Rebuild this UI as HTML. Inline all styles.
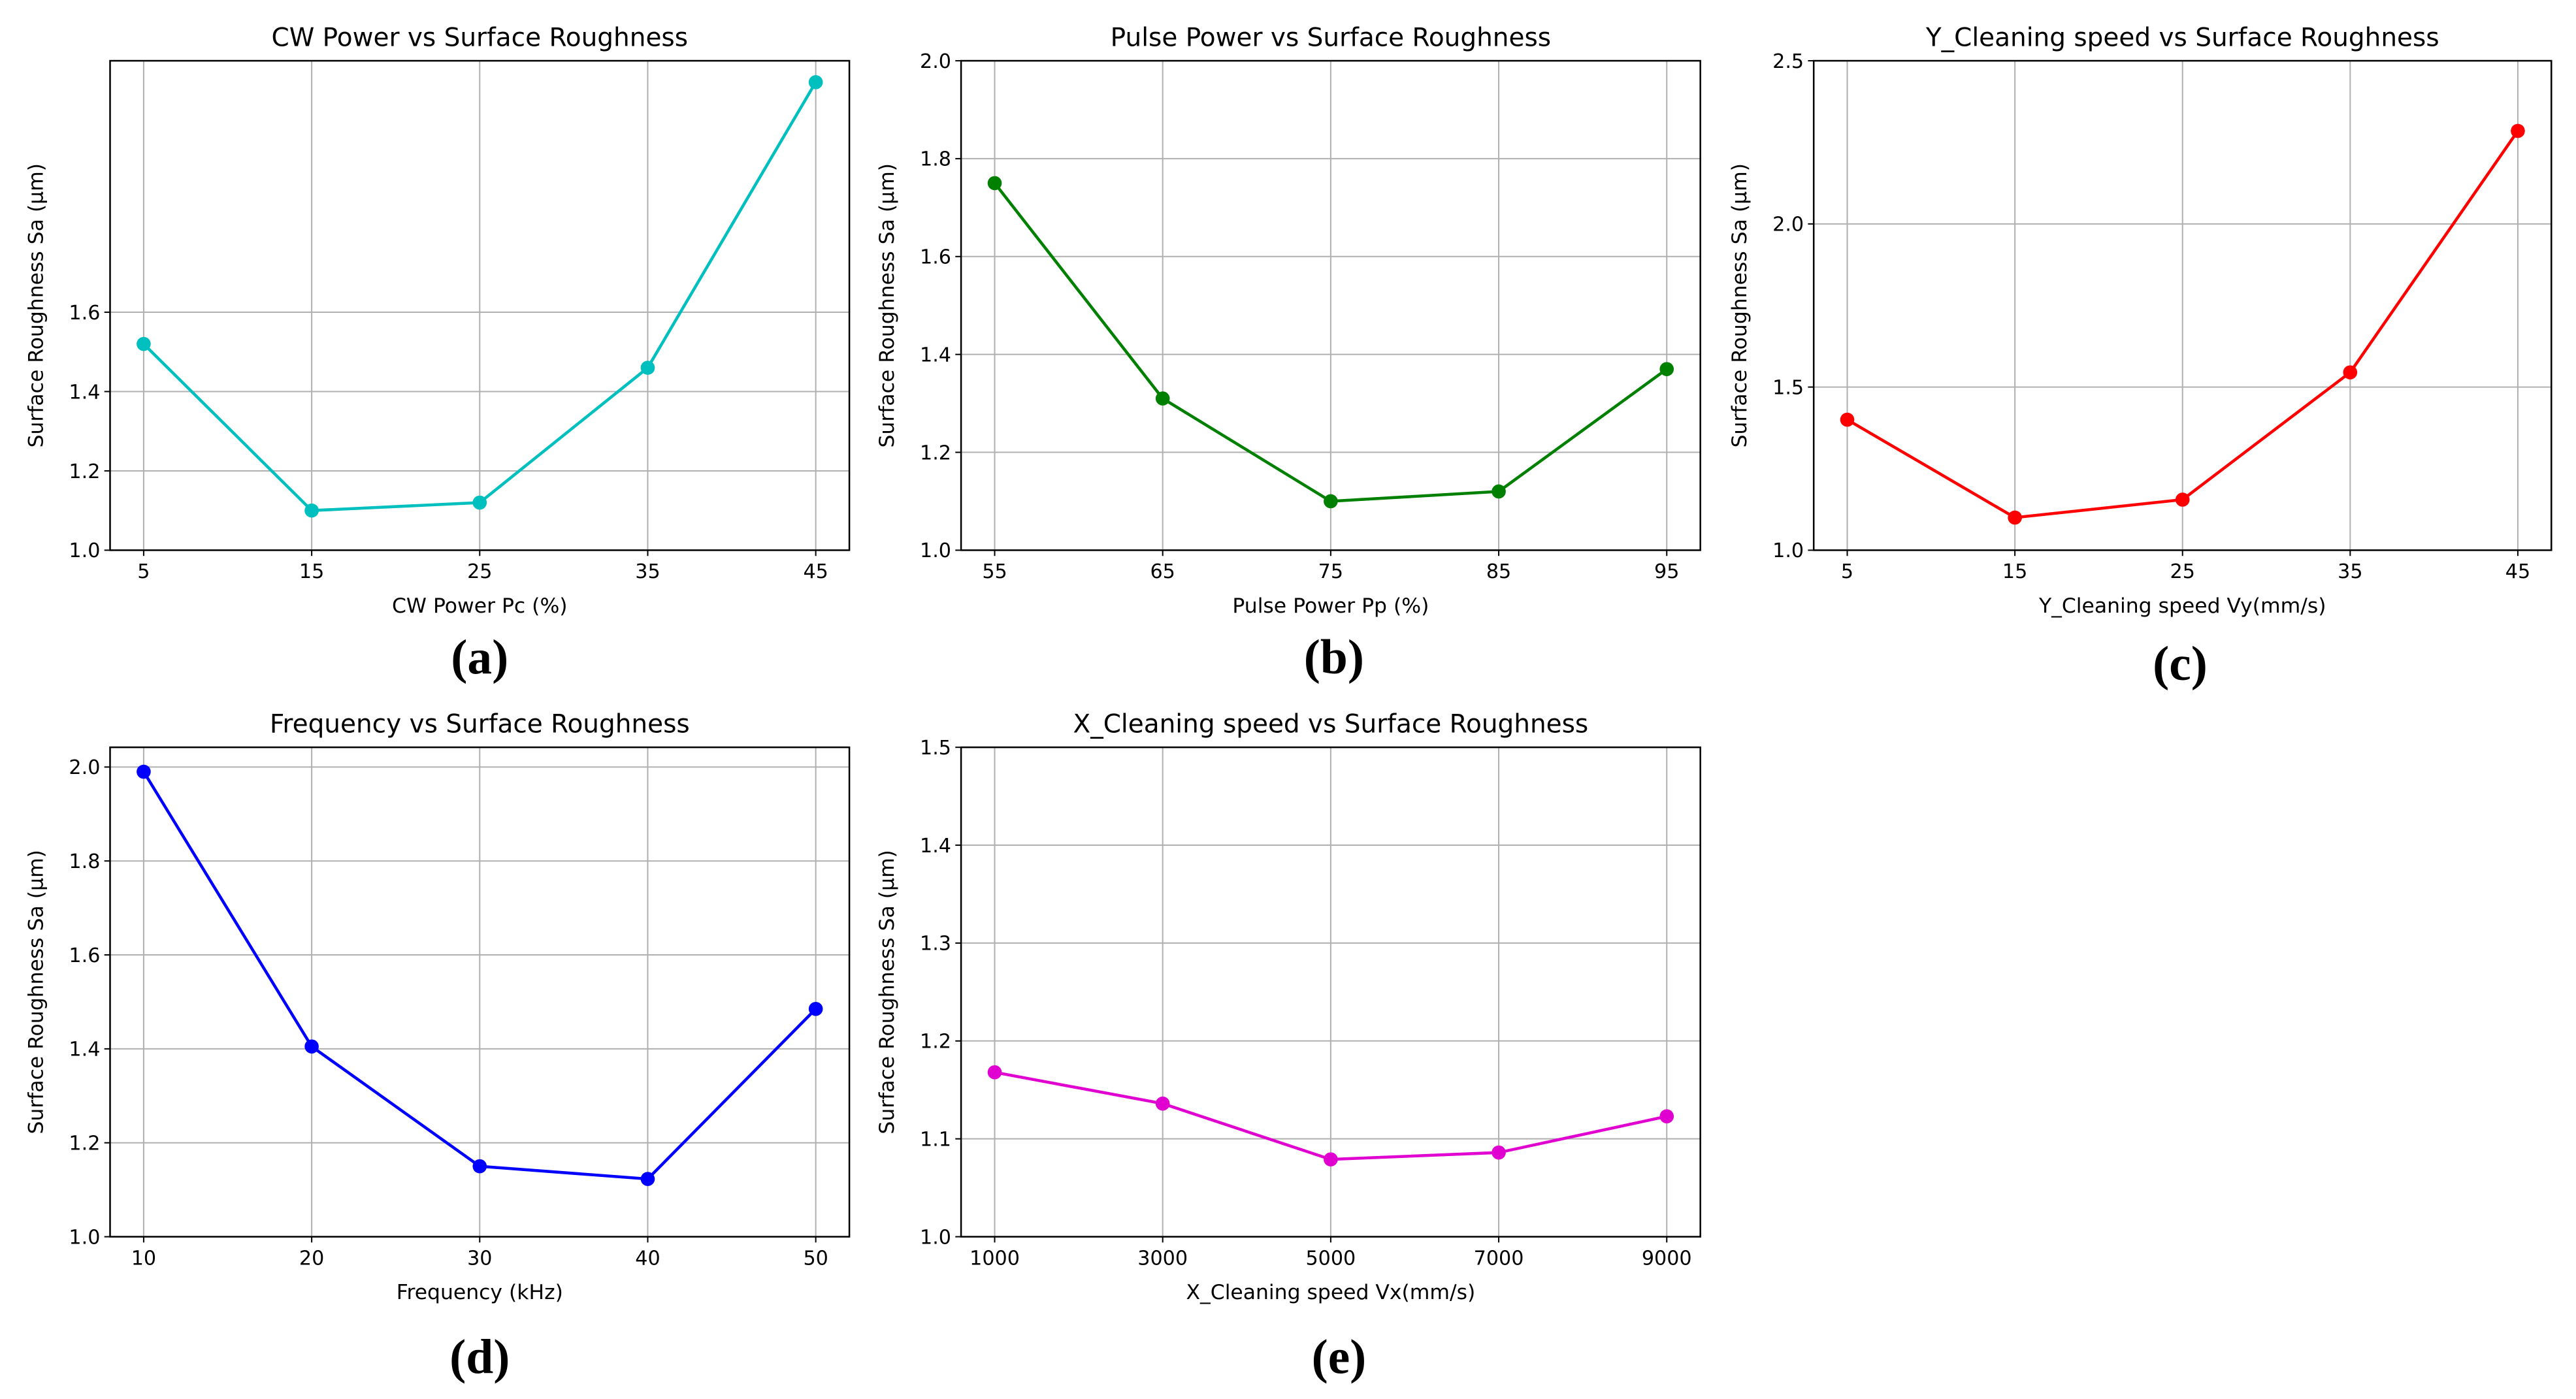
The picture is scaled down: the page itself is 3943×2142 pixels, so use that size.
<!DOCTYPE html>
<html><head><meta charset="utf-8"><style>
html,body{margin:0;padding:0;background:#fff;}
svg{display:block;}
text{font-family:"DejaVu Sans","Liberation Sans",sans-serif;fill:#000;}
.pl{font-family:"Liberation Serif",serif;font-weight:bold;}
</style></head><body>
<svg id="fig" width="3943" height="2142" viewBox="0 0 1568 851.8" preserveAspectRatio="none" xmlns="http://www.w3.org/2000/svg"></svg>
<script>
const xA=[5,15,25,35,45];
const yA=[1.52,1.10,1.12,1.46,2.18];
const yTicksA=[1.0,1.2,1.4,1.6];
const xB=[55,65,75,85,95];
const yB=[1.75,1.31,1.10,1.12,1.37];
const yTicksB=[1.0,1.2,1.4,1.6,1.8,2.0];
const xC=[5,15,25,35,45];
const yC=[1.40,1.10,1.155,1.545,2.285];
const yTicksC=[1.0,1.5,2.0,2.5];
const xD=[10,20,30,40,50];
const yD=[1.99,1.405,1.15,1.123,1.485];
const yTicksD=[1.0,1.2,1.4,1.6,1.8,2.0];
const xE=[1000,3000,5000,7000,9000];
const yE=[1.168,1.136,1.079,1.086,1.123];
const yTicksE=[1.0,1.1,1.2,1.3,1.4,1.5];

const NS="http://www.w3.org/2000/svg";
const svg=document.getElementById('fig');
function mk(tag,attrs,parent){const e=document.createElementNS(NS,tag);for(const k in attrs)e.setAttribute(k,attrs[k]);(parent||svg).appendChild(e);return e;}

function panel(o){
  const g=mk('g',{});
  
  
  const L=o.box[0],T=o.box[1],R=o.box[2],B=o.box[3];
  const xmin=Math.min(...o.xs),xmax=Math.max(...o.xs),pad=(xmax-xmin)*0.05;
  const sx=v=>L+(v-(xmin-pad))/((xmax+pad)-(xmin-pad))*(R-L);
  const sy=v=>B-(v-o.ylim[0])/(o.ylim[1]-o.ylim[0])*(B-T);
  o.xs.forEach(v=>{
    const l=mk('line',{x1:sx(v),x2:sx(v),y1:T,y2:B,stroke:'#b0b0b0','stroke-width':0.8},g);
    
    
    mk('line',{x1:sx(v),x2:sx(v),y1:B,y2:B+3.5,stroke:'#000','stroke-width':0.8},g);
    const t=mk('text',{x:sx(v),y:B+17,'font-size':12,'text-anchor':'middle'},g);
    t.textContent=String(v);
    
    
  });
  o.yt.forEach(v=>{
    const l=mk('line',{x1:L,x2:R,y1:sy(v),y2:sy(v),stroke:'#b0b0b0','stroke-width':0.8},g);
    
    
    mk('line',{x1:L-3.5,x2:L,y1:sy(v),y2:sy(v),stroke:'#000','stroke-width':0.8},g);
    const t=mk('text',{x:L-6,y:sy(v)+4.3,'font-size':12,'text-anchor':'end'},g);
    t.textContent=v.toFixed(1);
    
    
  });
  const fr=mk('rect',{x:L,y:T,width:R-L,height:B-T,fill:'none',stroke:'#000','stroke-width':1},g);
  
  
  const pts=o.xs.map((v,i)=>sx(v)+','+sy(o.ys[i])).join(' ');
  const pl=mk('polyline',{points:pts,fill:'none',stroke:o.color,'stroke-width':1.8},g);
  
  
  o.xs.forEach((v,i)=>{
    const c=mk('circle',{cx:sx(v),cy:sy(o.ys[i]),r:4.3,fill:o.color},g);
    
    
  });
  const cx=(L+R)/2;
  const ti=mk('text',{x:cx,y:T-9,'font-size':15.5,'text-anchor':'middle'},g);
  ti.textContent=o.title;
  
  
  const xl=mk('text',{x:cx,y:B+38,'font-size':12.5,'text-anchor':'middle'},g);
  xl.textContent=o.xlabel;
  
  
  const yy=(T+B)/2;
  const yl=mk('text',{x:L-41,y:yy,'font-size':12.5,'text-anchor':'middle',transform:'rotate(-90 '+(L-41)+' '+yy+')'},g);
  yl.textContent='Surface Roughness Sa (\u00b5m)';
  
  
  const pt=mk('text',{x:o.lab[0],y:o.lab[1],'font-size':30,'text-anchor':'middle','class':'pl'},g);
  pt.textContent=o.letter;
  
  
}
panel({name:'panel-a-cw-power',box:[67,37,517,335],xs:xA,ys:yA,yt:yTicksA,ylim:[1.0,2.234],color:'#00bfbf',title:'CW Power vs Surface Roughness',xlabel:'CW Power Pc (%)',letter:'(a)',lab:[292,410]});
panel({name:'panel-b-pulse-power',box:[585,37,1035,335],xs:xB,ys:yB,yt:yTicksB,ylim:[1.0,2.0],color:'#008000',title:'Pulse Power vs Surface Roughness',xlabel:'Pulse Power Pp (%)',letter:'(b)',lab:[812,410]});
panel({name:'panel-c-y-cleaning-speed',box:[1104,37,1553,335],xs:xC,ys:yC,yt:yTicksC,ylim:[1.0,2.5],color:'#ff0000',title:'Y_Cleaning speed vs Surface Roughness',xlabel:'Y_Cleaning speed Vy(mm/s)',letter:'(c)',lab:[1327,414]});
panel({name:'panel-d-frequency',box:[67,455,517,753],xs:xD,ys:yD,yt:yTicksD,ylim:[1.0,2.042],color:'#0000ff',title:'Frequency vs Surface Roughness',xlabel:'Frequency (kHz)',letter:'(d)',lab:[292,836]});
panel({name:'panel-e-x-cleaning-speed',box:[585,455,1035,753],xs:xE,ys:yE,yt:yTicksE,ylim:[1.0,1.5],color:'#e000d0',title:'X_Cleaning speed vs Surface Roughness',xlabel:'X_Cleaning speed Vx(mm/s)',letter:'(e)',lab:[815,836]});
</script>
</body></html>
